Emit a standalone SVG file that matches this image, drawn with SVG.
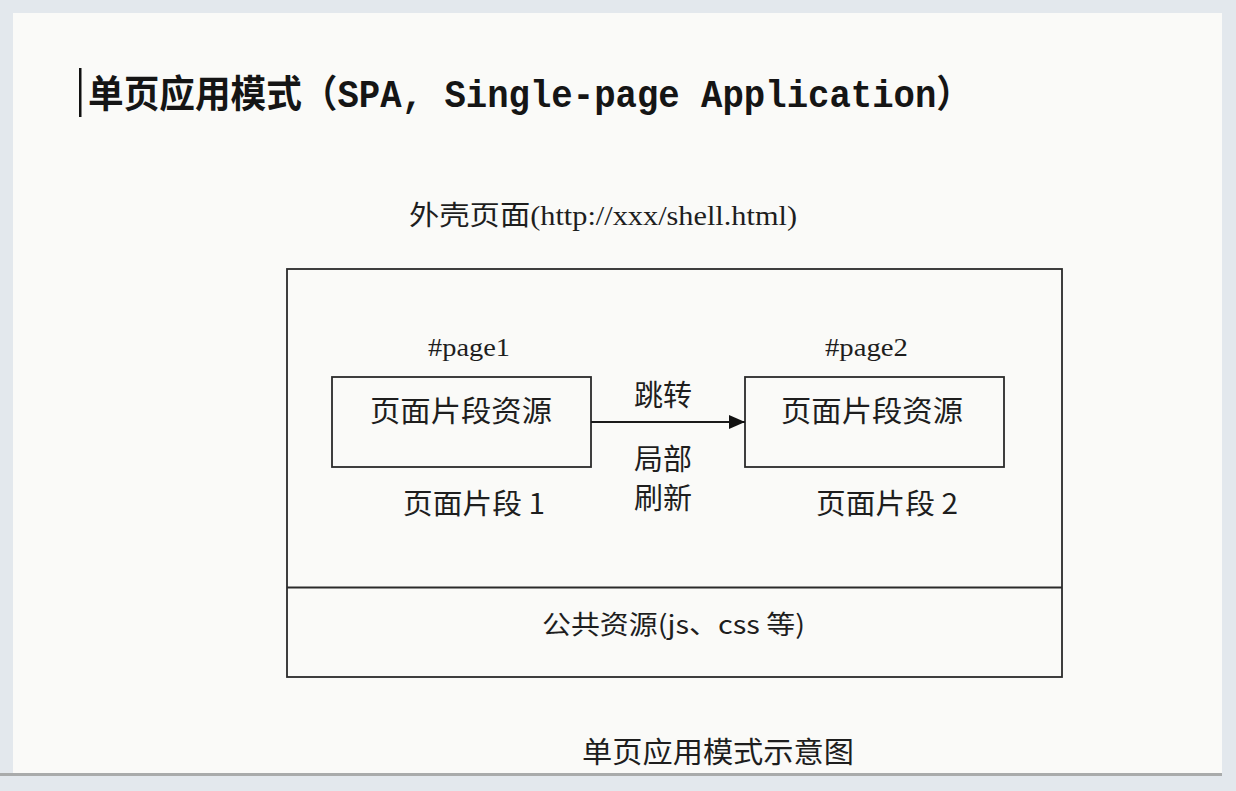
<svg xmlns="http://www.w3.org/2000/svg" width="1236" height="791" viewBox="0 0 1236 791">
  <defs>
    <marker id="arr" viewBox="0 0 16 14" refX="16" refY="7" markerWidth="16" markerHeight="14" markerUnits="userSpaceOnUse" orient="auto">
      <path d="M0,0 L16,7 L0,14 z" fill="#111"/>
    </marker>
    <style>
      .box { fill: none; stroke: #2a2a2a; stroke-width: 1.8; }
      .t { font-family: "Liberation Serif", "Noto Sans CJK SC", serif; fill: #1e1e1e; }
      .c { font-family: "Noto Sans CJK SC", "Liberation Serif", sans-serif; fill: #1e1e1e; }
    </style>
  </defs>
  <rect x="0" y="0" width="1236" height="791" fill="#e3e8ed"/>
  <rect x="13" y="13" width="1209" height="760" fill="#fafaf8"/>
  <rect x="0" y="773" width="1222" height="3" fill="#a9abab"/>

  <g id="title">
    <rect x="79" y="68" width="2.5" height="49" fill="#111"/>
    <text x="88" y="107" font-family="Liberation Mono, 'Noto Sans CJK SC', monospace" font-weight="bold" font-size="38" fill="#151515" textLength="884" lengthAdjust="spacingAndGlyphs">单页应用模式（SPA, Single-page Application）</text>
  </g>

  <g id="shell-label">
    <text class="t" x="409" y="225" font-size="27" textLength="388" lengthAdjust="spacingAndGlyphs">外壳页面(http://xxx/shell.html)</text>
  </g>

  <g id="shell">
    <rect class="box" x="287" y="269" width="775" height="408"/>
    <line class="box" x1="287" y1="587.5" x2="1062" y2="587.5"/>
  </g>

  <g id="page1">
    <text class="t" x="428" y="356" font-size="26" textLength="82" lengthAdjust="spacingAndGlyphs">#page1</text>
    <rect class="box" x="332" y="377" width="259" height="90"/>
    <text class="c" x="461" y="422" font-size="29" text-anchor="middle" textLength="182" lengthAdjust="spacingAndGlyphs">页面片段资源</text>
    <text class="c" x="403" y="514" font-size="28" textLength="142" lengthAdjust="spacingAndGlyphs">页面片段 1</text>
  </g>

  <g id="page2">
    <text class="t" x="825" y="356" font-size="26" textLength="83" lengthAdjust="spacingAndGlyphs">#page2</text>
    <rect class="box" x="745" y="377" width="259" height="90"/>
    <text class="c" x="872" y="422" font-size="29" text-anchor="middle" textLength="182" lengthAdjust="spacingAndGlyphs">页面片段资源</text>
    <text class="c" x="816" y="514" font-size="28" textLength="142" lengthAdjust="spacingAndGlyphs">页面片段 2</text>
  </g>

  <g id="connectors">
    <line x1="591" y1="422" x2="745" y2="422" stroke="#1a1a1a" stroke-width="1.8" marker-end="url(#arr)"/>
    <text class="c" x="663" y="406" font-size="29" text-anchor="middle" textLength="58" lengthAdjust="spacingAndGlyphs">跳转</text>
    <text class="c" x="663" y="470" font-size="29" text-anchor="middle" textLength="58" lengthAdjust="spacingAndGlyphs">局部</text>
    <text class="c" x="663" y="509" font-size="29" text-anchor="middle" textLength="58" lengthAdjust="spacingAndGlyphs">刷新</text>
  </g>

  <g id="common">
    <text class="c" x="542" y="634" font-size="26" textLength="263" lengthAdjust="spacingAndGlyphs">公共资源(js、css 等)</text>
  </g>

  <g id="caption">
    <text class="c" x="582" y="763" font-size="29" textLength="272" lengthAdjust="spacingAndGlyphs">单页应用模式示意图</text>
  </g>
</svg>
